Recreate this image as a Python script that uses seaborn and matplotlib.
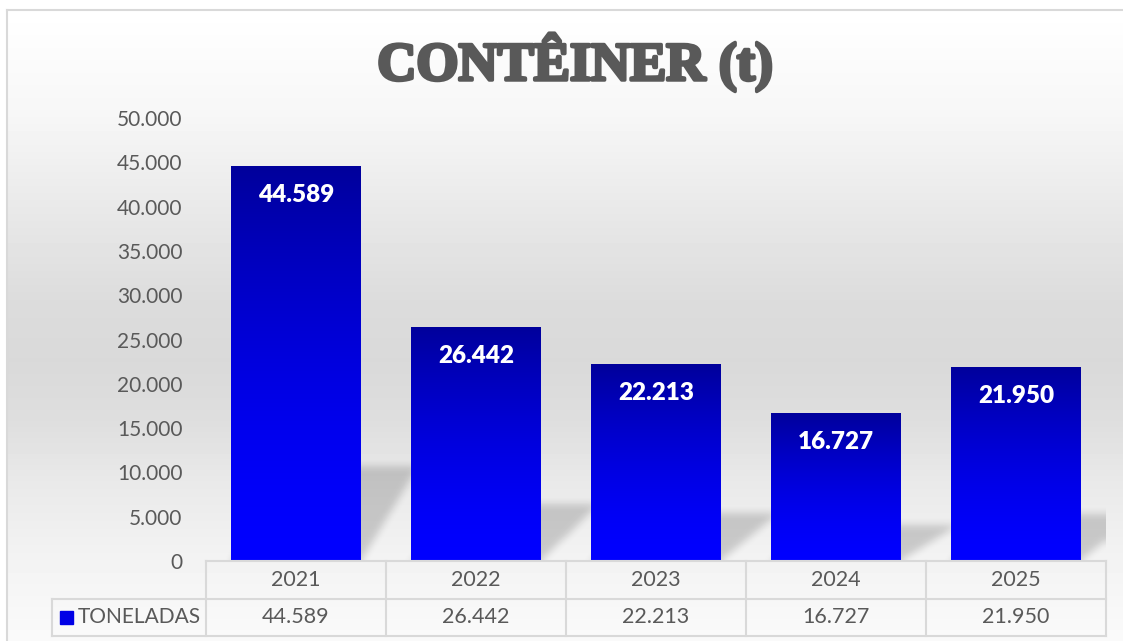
import numpy as np
import pandas as pd
import matplotlib
matplotlib.use("Agg")
import matplotlib.pyplot as plt
import matplotlib.patheffects as pe
from matplotlib.patches import Rectangle
import seaborn as sns

# ---------------- data ----------------
years = ["2021", "2022", "2023", "2024", "2025"]
toneladas = [44589, 26442, 22213, 16727, 21950]
series_name = "TONELADAS"
title = "CONTÊINER (t)"
yticks = list(range(0, 50001, 5000))

plt.rcParams["font.family"] = ["Lato", "DejaVu Sans"]


def fmt(v):
    return f"{v:,}".replace(",", ".")


W, H = 1123, 641
fig = plt.figure(figsize=(W / 100, H / 100), dpi=100)

# ---------------- background gradient + frame ----------------
bg = fig.add_axes([0, 0, 1, 1], zorder=-5)
ystops = [0, 10, 110, 200, 300, 360, 420, 480, 560, 641]
vstops = [255, 255, 247, 234, 220, 217, 222, 233, 243, 250]
col = np.interp(np.arange(H), ystops, vstops) / 255
img = np.repeat(col[:, None], W, axis=1)
img[:10, :] = 1
img[:, :7] = 1
bg.imshow(img, cmap="gray", vmin=0, vmax=1, extent=(0, W, H, 0),
          aspect="auto", interpolation="bilinear")
bg.plot([7, W], [10, 10], color="#d9d9d9", lw=1.5)
bg.plot([7, 7], [10, H], color="#d9d9d9", lw=1.5)
bg.set_xlim(0, W)
bg.set_ylim(H, 0)
bg.axis("off")

# ---------------- main axes ----------------
ax = fig.add_axes([206 / W, 1 - 561 / H, 900 / W, 443 / H])
ax.set_facecolor("none")
df = pd.DataFrame({"Ano": years, "Toneladas": toneladas})
sns.barplot(data=df, x="Ano", y="Toneladas", color="#0000ff", saturation=1,
            width=0.72, ax=ax)
bars = list(ax.patches)
for p in bars:
    p.set_zorder(2)
    p.set_edgecolor("none")

# per-bar vertical gradient
fr = np.linspace(0, 1, 256)
blue = (155 + 100 * (1 - (1 - fr) ** 1.6)) / 255
grad = np.zeros((256, 1, 3))
grad[:, 0, 2] = blue
for p in bars:
    x, w, h = p.get_x(), p.get_width(), p.get_height()
    im = ax.imshow(grad, extent=(x, x + w, 0, h), origin="upper",
                   aspect="auto", zorder=2.1, interpolation="bilinear")
    im.set_clip_path(p)

# perspective shadows derived from bar geometry
nx, ny = 900, 443
xs = np.linspace(-0.5, 4.5, nx)
ys = np.linspace(0, 50000, ny)
X, Y = np.meshgrid(xs, ys)
mask = np.zeros_like(X)
dx, ratio = 0.32, 0.24
for p in bars:
    xl, w, h = p.get_x(), p.get_width(), p.get_height()
    hs = ratio * h
    t = Y / hs
    inside = (Y <= hs) & (X >= xl + dx * t) & (X <= xl + w + dx * t)
    mask = np.maximum(mask, inside.astype(float))


def box_blur(a, r):
    for axis in (0, 1):
        a = np.moveaxis(a, axis, 0)
        pad = np.pad(a, ((r + 1, r), (0, 0)), mode="edge")
        c = np.cumsum(pad, axis=0)
        a = (c[2 * r + 1:] - c[:-2 * r - 1]) / (2 * r + 1)
        a = np.moveaxis(a, 0, axis)
    return a


mask = box_blur(box_blur(mask, 4), 4)
shadow = np.zeros((ny, nx, 4))
shadow[..., 3] = mask * 0.17
ax.imshow(shadow, extent=(-0.5, 4.5, 0, 50000), origin="lower",
          aspect="auto", zorder=1.5, interpolation="bilinear")

ax.set_xlim(-0.5, 4.5)
ax.set_ylim(0, 50000)
ax.set_yticks(yticks)
ax.set_yticklabels([fmt(v) for v in yticks])
ax.tick_params(axis="y", length=0, pad=17, labelsize=15, labelcolor="#595959")
ax.tick_params(axis="x", length=0, labelbottom=False)
ax.set_xlabel("")
ax.set_ylabel("")
for s in ax.spines.values():
    s.set_visible(False)

# data labels
for p, v in zip(bars, toneladas):
    ax.annotate(fmt(v), (p.get_x() + p.get_width() / 2, p.get_height()),
                xytext=(0, -21), textcoords="offset points", ha="center",
                va="center", color="white", fontsize=17.5, fontweight="heavy",
                zorder=5)

# ---------------- data table ----------------
positions = list(ax.get_xticks())
left_units = -0.5 - 154 / 180
tax = fig.add_axes([52 / W, 1 - 636 / H, 1054 / W, 75 / H])
tax.set_xlim(left_units, 4.5)
tax.set_ylim(2, 0)
tax.axis("off")
lc = "#d9d9d9"
tlw = 1.5
tax.plot([-0.5, 4.5], [0, 0], color=lc, lw=tlw, clip_on=False)
tax.plot([left_units, 4.5], [1, 1], color=lc, lw=tlw, clip_on=False)
tax.plot([left_units, 4.5], [2, 2], color=lc, lw=tlw, clip_on=False)
tax.plot([left_units, left_units], [1, 2], color=lc, lw=tlw, clip_on=False)
for b in [pos - 0.5 for pos in positions] + [positions[-1] + 0.5]:
    tax.plot([b, b], [0, 2], color=lc, lw=tlw, clip_on=False)
for pos, yr, v in zip(positions, years, toneladas):
    tax.text(pos, 0.5, yr, ha="center", va="center", fontsize=15.5,
             color="#595959")
    tax.text(pos, 1.5, fmt(v), ha="center", va="center", fontsize=15.5,
             color="#595959")
tax.add_patch(Rectangle((left_units + 8 / 180, 1.5 - 0.17), 13 / 180, 0.34,
                        color="#0000e6", clip_on=False))
tax.text(left_units + 26 / 180, 1.5, series_name, ha="left", va="center",
         fontsize=15, color="#595959")

# ---------------- title ----------------
fig.text(575 / W, 1 - 80 / H, title, ha="center", va="baseline", fontsize=39,
         family=["Liberation Serif", "DejaVu Serif"], weight="bold",
         color="#595959",
         path_effects=[pe.withStroke(linewidth=2.5, foreground="#595959")])

fig.savefig("out.png", dpi=100)
